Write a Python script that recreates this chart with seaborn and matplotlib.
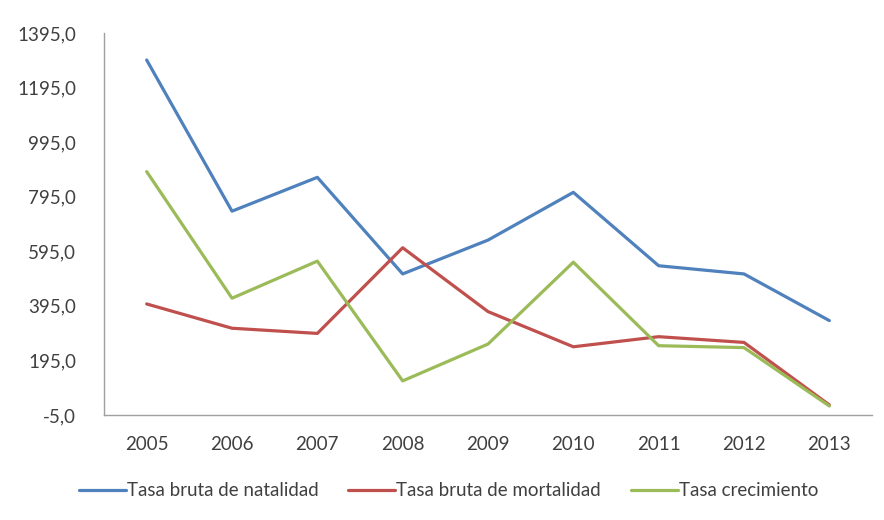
import matplotlib
matplotlib.use("Agg")
import matplotlib.pyplot as plt
import seaborn as sns
import pandas as pd

years = ["2005", "2006", "2007", "2008", "2009", "2010", "2011", "2012", "2013"]
natalidad = [1296, 742, 866, 512, 636, 811, 542, 512, 341]
mortalidad = [402, 313, 294, 608, 374, 245, 282, 261, 32]
crecimiento = [887, 423, 559, 120, 255, 555, 249, 242, 28]
series_names = ["Tasa bruta de natalidad", "Tasa bruta de mortalidad", "Tasa crecimiento"]
colors = ["#4F81BD", "#C0504D", "#9BBB59"]
y_ticks = [-5, 195, 395, 595, 795, 995, 1195, 1395]

df = pd.DataFrame({
    "year": years * 3,
    "value": natalidad + mortalidad + crecimiento,
    "serie": [series_names[0]] * 9 + [series_names[1]] * 9 + [series_names[2]] * 9,
})

sns.set_style("white")
plt.rcParams["font.family"] = ["Lato", "DejaVu Sans"]

fig = plt.figure(figsize=(8.84, 5.2), dpi=100)
ax = fig.add_axes([104 / 884, 1 - 415 / 520, (872 - 104) / 884, (415 - 33) / 520])

sns.lineplot(data=df, x="year", y="value", hue="serie", palette=colors,
             linewidth=2.3, sort=False, ax=ax, legend=False)

ax.set_xlim(-0.5, len(years) - 0.5)
ax.set_ylim(-5, 1395)
ax.set_yticks(y_ticks)
ax.set_yticklabels([f"{v:.1f}".replace(".", ",") for v in y_ticks])
ax.set_xlabel("")
ax.set_ylabel("")
ax.tick_params(axis="both", length=0, labelsize=13.5, labelcolor="#404040")
ax.tick_params(axis="y", pad=20)
ax.tick_params(axis="x", pad=15)

for side in ["top", "right"]:
    ax.spines[side].set_visible(False)
for side in ["left", "bottom"]:
    ax.spines[side].set_color("#A0A0A0")
    ax.spines[side].set_linewidth(1.0)

handles = [plt.Line2D([], [], color=c, linewidth=2.3) for c in colors]
fig.legend(handles, series_names, loc="center left",
           bbox_to_anchor=(62 / 884, 1 - 491 / 520), ncol=3, frameon=False,
           handlelength=2.5, handletextpad=0.05, columnspacing=1.6,
           prop={"size": 13.5}, labelcolor="#404040")

fig.savefig("out.png", dpi=100)
